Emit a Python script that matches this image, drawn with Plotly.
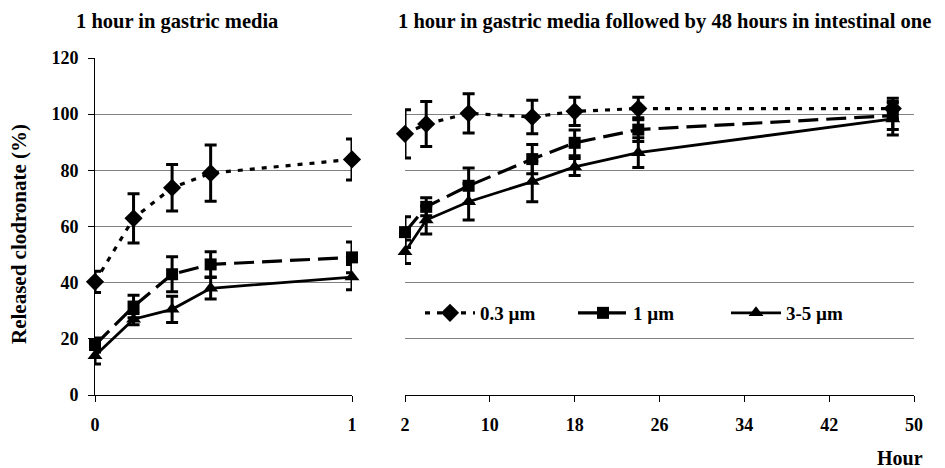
import plotly.graph_objects as go

# ---- data ----
hours_gastric = [0, 0.15, 0.3, 0.45, 1]
hours_intestinal = [2, 4, 8, 14, 18, 24, 48]

g_03 = [40.3, 62.9, 73.8, 79.0, 83.9]
g_03_err = [3.8, 8.8, 8.3, 10.0, 7.3]
g_1 = [17.8, 31.5, 43.0, 46.5, 49.0]
g_1_err = [2.5, 4.0, 6.2, 4.5, 5.5]
g_35 = [14.0, 27.0, 30.5, 38.0, 42.0]
g_35_err = [3.0, 2.0, 4.7, 3.8, 4.5]

i_03 = [93.0, 96.5, 100.3, 99.0, 101.0, 102.0, 102.0]
i_03_err = [8.6, 8.0, 7.0, 6.0, 5.0, 4.0, 3.7]
i_1 = [58.0, 67.0, 74.5, 84.0, 89.8, 94.5, 99.5]
i_1_err = [5.5, 3.2, 6.3, 5.2, 4.6, 4.2, 5.0]
i_35 = [51.0, 62.3, 68.8, 76.0, 81.2, 86.3, 98.3]
i_35_err = [4.2, 5.0, 6.5, 7.2, 3.0, 5.3, 5.7]

series_names = ["0.3 \u00b5m", "1 \u00b5m", "3-5 \u00b5m"]
y_ticks = [0, 20, 40, 60, 80, 100, 120]
x2_ticks = [2, 10, 18, 26, 34, 42, 50]

FONT = "Liberation Serif"
styles = [
    dict(dash="5px,7px", width=3.2, symbol="diamond", size=14),
    dict(dash="20px,8px", width=3.2, symbol="square", size=12),
    dict(dash="solid", width=2.8, symbol="triangle-up", size=13),
]

fig = go.Figure()
gastric = [(g_03, g_03_err), (g_1, g_1_err), (g_35, g_35_err)]
intest = [(i_03, i_03_err), (i_1, i_1_err), (i_35, i_35_err)]

for k, (name, st) in enumerate(zip(series_names, styles)):
    for panel, (xs, (ys, es)) in enumerate([(hours_gastric, gastric[k]), (hours_intestinal, intest[k])]):
        fig.add_trace(go.Scatter(
            x=xs, y=ys, mode="lines+markers", name=name,
            showlegend=(panel == 1), legendgroup=name,
            xaxis="x" if panel == 0 else "x2",
            yaxis="y" if panel == 0 else "y2",
            cliponaxis=False,
            line=dict(color="black", width=st["width"], dash=st["dash"]),
            marker=dict(symbol=st["symbol"], size=st["size"], color="black"),
            error_y=dict(type="data", array=es, visible=True, color="black",
                         thickness=3, width=6),
        ))

# plot area in screen pixels: x 95..914, y 58..395 (page has 8px body offset)
d1 = (352 - 95) / 819
d2 = (405 - 95) / 819

tick_font = dict(family=FONT, size=18, color="black", weight="bold")

fig.update_layout(
    width=937, height=460,
    margin=dict(l=87, r=31, t=50, b=73),
    paper_bgcolor="white", plot_bgcolor="white",
    font=dict(family=FONT, size=18, color="black", weight="bold"),
    xaxis=dict(domain=[0, d1], range=[0, 1], tickvals=[0, 1], ticktext=["0", "1"],
               showgrid=False, zeroline=False, showline=True, linecolor="black",
               linewidth=1, ticks="outside", ticklen=6, tickcolor="black",
               tickfont=tick_font, ticklabelstandoff=7, anchor="y"),
    xaxis2=dict(domain=[d2, 1], range=[2, 50], tickvals=x2_ticks,
                showgrid=False, zeroline=False, showline=True, linecolor="black",
                linewidth=1, ticks="outside", ticklen=6, tickcolor="black",
                tickfont=tick_font, ticklabelstandoff=7, anchor="y2"),
    yaxis=dict(range=[0, 120], tickvals=y_ticks, showgrid=True, gridcolor="#808080",
               gridwidth=1, zeroline=False, showline=True, linecolor="black",
               linewidth=1, ticks="outside", ticklen=6, tickcolor="black",
               tickfont=tick_font, ticklabelstandoff=6, anchor="x"),
    yaxis2=dict(range=[0, 120], tickvals=y_ticks, showgrid=True, gridcolor="#808080",
                gridwidth=1, zeroline=False, showline=False, showticklabels=False,
                ticks="", anchor="x2", matches="y"),
    legend=dict(orientation="h", x=(420 - 95) / 819, y=(395 - 313) / 337,
                xanchor="left", yanchor="middle", bgcolor="rgba(0,0,0,0)",
                font=dict(family=FONT, size=19, color="black", weight="bold"),
                itemwidth=50, entrywidth=88, entrywidthmode="pixels",
                tracegroupgap=0),
    showlegend=True,
)

ann_font = dict(family=FONT, size=20.5, color="black", weight="bold")
title_y = (395 - 8.5) / 337
fig.add_annotation(text="1 hour in gastric media", xref="paper", yref="paper",
                   x=(177 - 95) / 819, y=title_y, showarrow=False, borderpad=0,
                   xanchor="center", yanchor="top", font=ann_font)
fig.add_annotation(text="1 hour in gastric media followed by 48 hours in intestinal one",
                   xref="paper", yref="paper", x=(664 - 95) / 819, y=title_y,
                   showarrow=False, borderpad=0, xanchor="center", yanchor="top",
                   font=ann_font)
fig.add_annotation(text="Released clodronate (%)", xref="paper", yref="paper",
                   x=(19 - 95) / 819, y=(395 - 234) / 337, textangle=-90,
                   showarrow=False, xanchor="center", yanchor="middle",
                   font=dict(family=FONT, size=21, color="black", weight="bold"))
fig.add_annotation(text="Hour", xref="paper", yref="paper",
                   x=(900 - 95) / 819, y=(395 - 458) / 337,
                   showarrow=False, xanchor="center", yanchor="middle",
                   font=dict(family=FONT, size=20, color="black", weight="bold"))

fig.write_html("out.html")
